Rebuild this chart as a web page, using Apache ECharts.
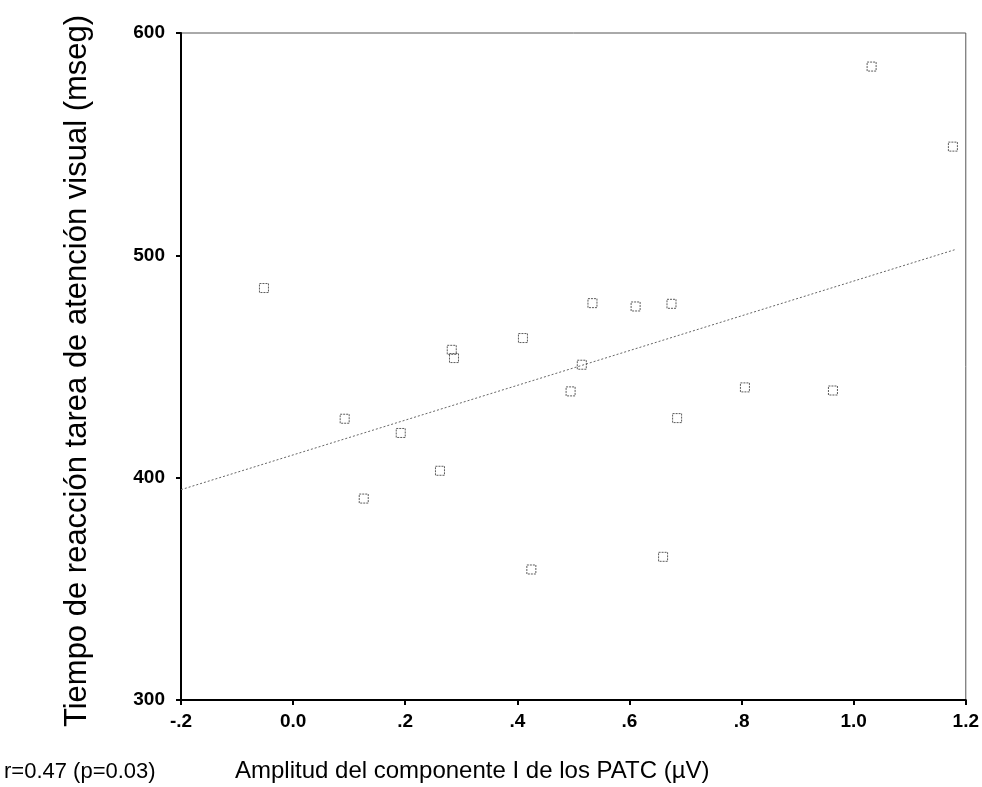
<!DOCTYPE html>
<html>
<head>
<meta charset="utf-8">
<script src="https://cdn.jsdelivr.net/npm/echarts@6/dist/echarts.min.js"></script>
<style>
  html, body { margin: 0; padding: 0; background: #fff; }
  #chart { width: 982px; height: 787px; }
</style>
</head>
<body>
<div id="chart"></div>
<script>
// amplitud (µV) vs tiempo de reacción (mseg)
const amplitud = [-0.052, 0.092, 0.126, 0.192, 0.262, 0.283, 0.287, 0.410, 0.425, 0.495,
  0.515, 0.534, 0.611, 0.660, 0.675, 0.685, 0.806, 0.963, 1.032, 1.177]
const tiempo = [485.3, 426.5, 390.6, 420.1, 403.1, 457.5, 453.8, 462.8, 358.7, 438.8,
  450.8, 478.5, 477.0, 364.4, 478.2, 426.8, 440.6, 439.2, 584.9, 548.9]
// recta de regresión (extremos)
const rectaX = [-0.2, 1.18]
const rectaY = [394.6, 502.5]
const xTicks = ['-.2', '0.0', '.2', '.4', '.6', '.8', '1.0', '1.2']

const chart = echarts.init(document.getElementById('chart'), null, { renderer: 'canvas' })

const font = 'Arial, "Liberation Sans", sans-serif'

chart.setOption({
  backgroundColor: '#fff',
  animation: false,
  grid: {
    left: 181, right: 16, top: 33, bottom: 87,
    show: true, borderColor: '#555', borderWidth: 1, backgroundColor: 'transparent'
  },
  xAxis: {
    type: 'value', min: -0.2, max: 1.2, interval: 0.2,
    axisLine: { show: true, onZero: false, lineStyle: { color: '#000', width: 2 } },
    axisTick: { show: true, inside: false, length: 5, lineStyle: { color: '#000', width: 2 } },
    splitLine: { show: false },
    axisLabel: {
      margin: 12, color: '#000', fontFamily: font, fontSize: 19, fontWeight: 'bold',
      formatter: (v) => xTicks[Math.round((v + 0.2) / 0.2)]
    }
  },
  yAxis: {
    type: 'value', min: 300, max: 600, interval: 100,
    axisLine: { show: true, onZero: false, lineStyle: { color: '#000', width: 2 } },
    axisTick: { show: true, inside: false, length: 5, lineStyle: { color: '#000', width: 2 } },
    splitLine: { show: false },
    axisLabel: { margin: 16, color: '#000', fontFamily: font, fontSize: 19, fontWeight: 'bold' }
  },
  series: [
    {
      type: 'line',
      data: rectaX.map((x, i) => [x, rectaY[i]]),
      showSymbol: false,
      lineStyle: { color: '#666', width: 1, type: [2, 2] },
      z: 2
    },
    {
      type: 'scatter',
      data: amplitud.map((x, i) => [x, tiempo[i]]),
      symbol: 'rect',
      symbolSize: 9,
      itemStyle: { color: 'rgba(0,0,0,0)', borderColor: '#333', borderWidth: 1, borderType: [2, 1] },
      z: 3
    }
  ],
  graphic: [
    {
      type: 'text', x: 77, y: 371,
      rotation: Math.PI / 2,
      style: {
        text: 'Tiempo de reacción tarea de atención visual (mseg)',
        fontFamily: font, fontSize: 31, fill: '#000',
        align: 'center', verticalAlign: 'middle'
      }
    },
    {
      type: 'text', x: 235, y: 771,
      style: {
        text: 'Amplitud del componente I de los PATC (µV)',
        fontFamily: font, fontSize: 24, fill: '#000', verticalAlign: 'middle'
      }
    },
    {
      type: 'text', x: 4, y: 772,
      style: {
        text: 'r=0.47 (p=0.03)',
        fontFamily: font, fontSize: 22, fill: '#000', verticalAlign: 'middle'
      }
    }
  ]
})
</script>
</body>
</html>
